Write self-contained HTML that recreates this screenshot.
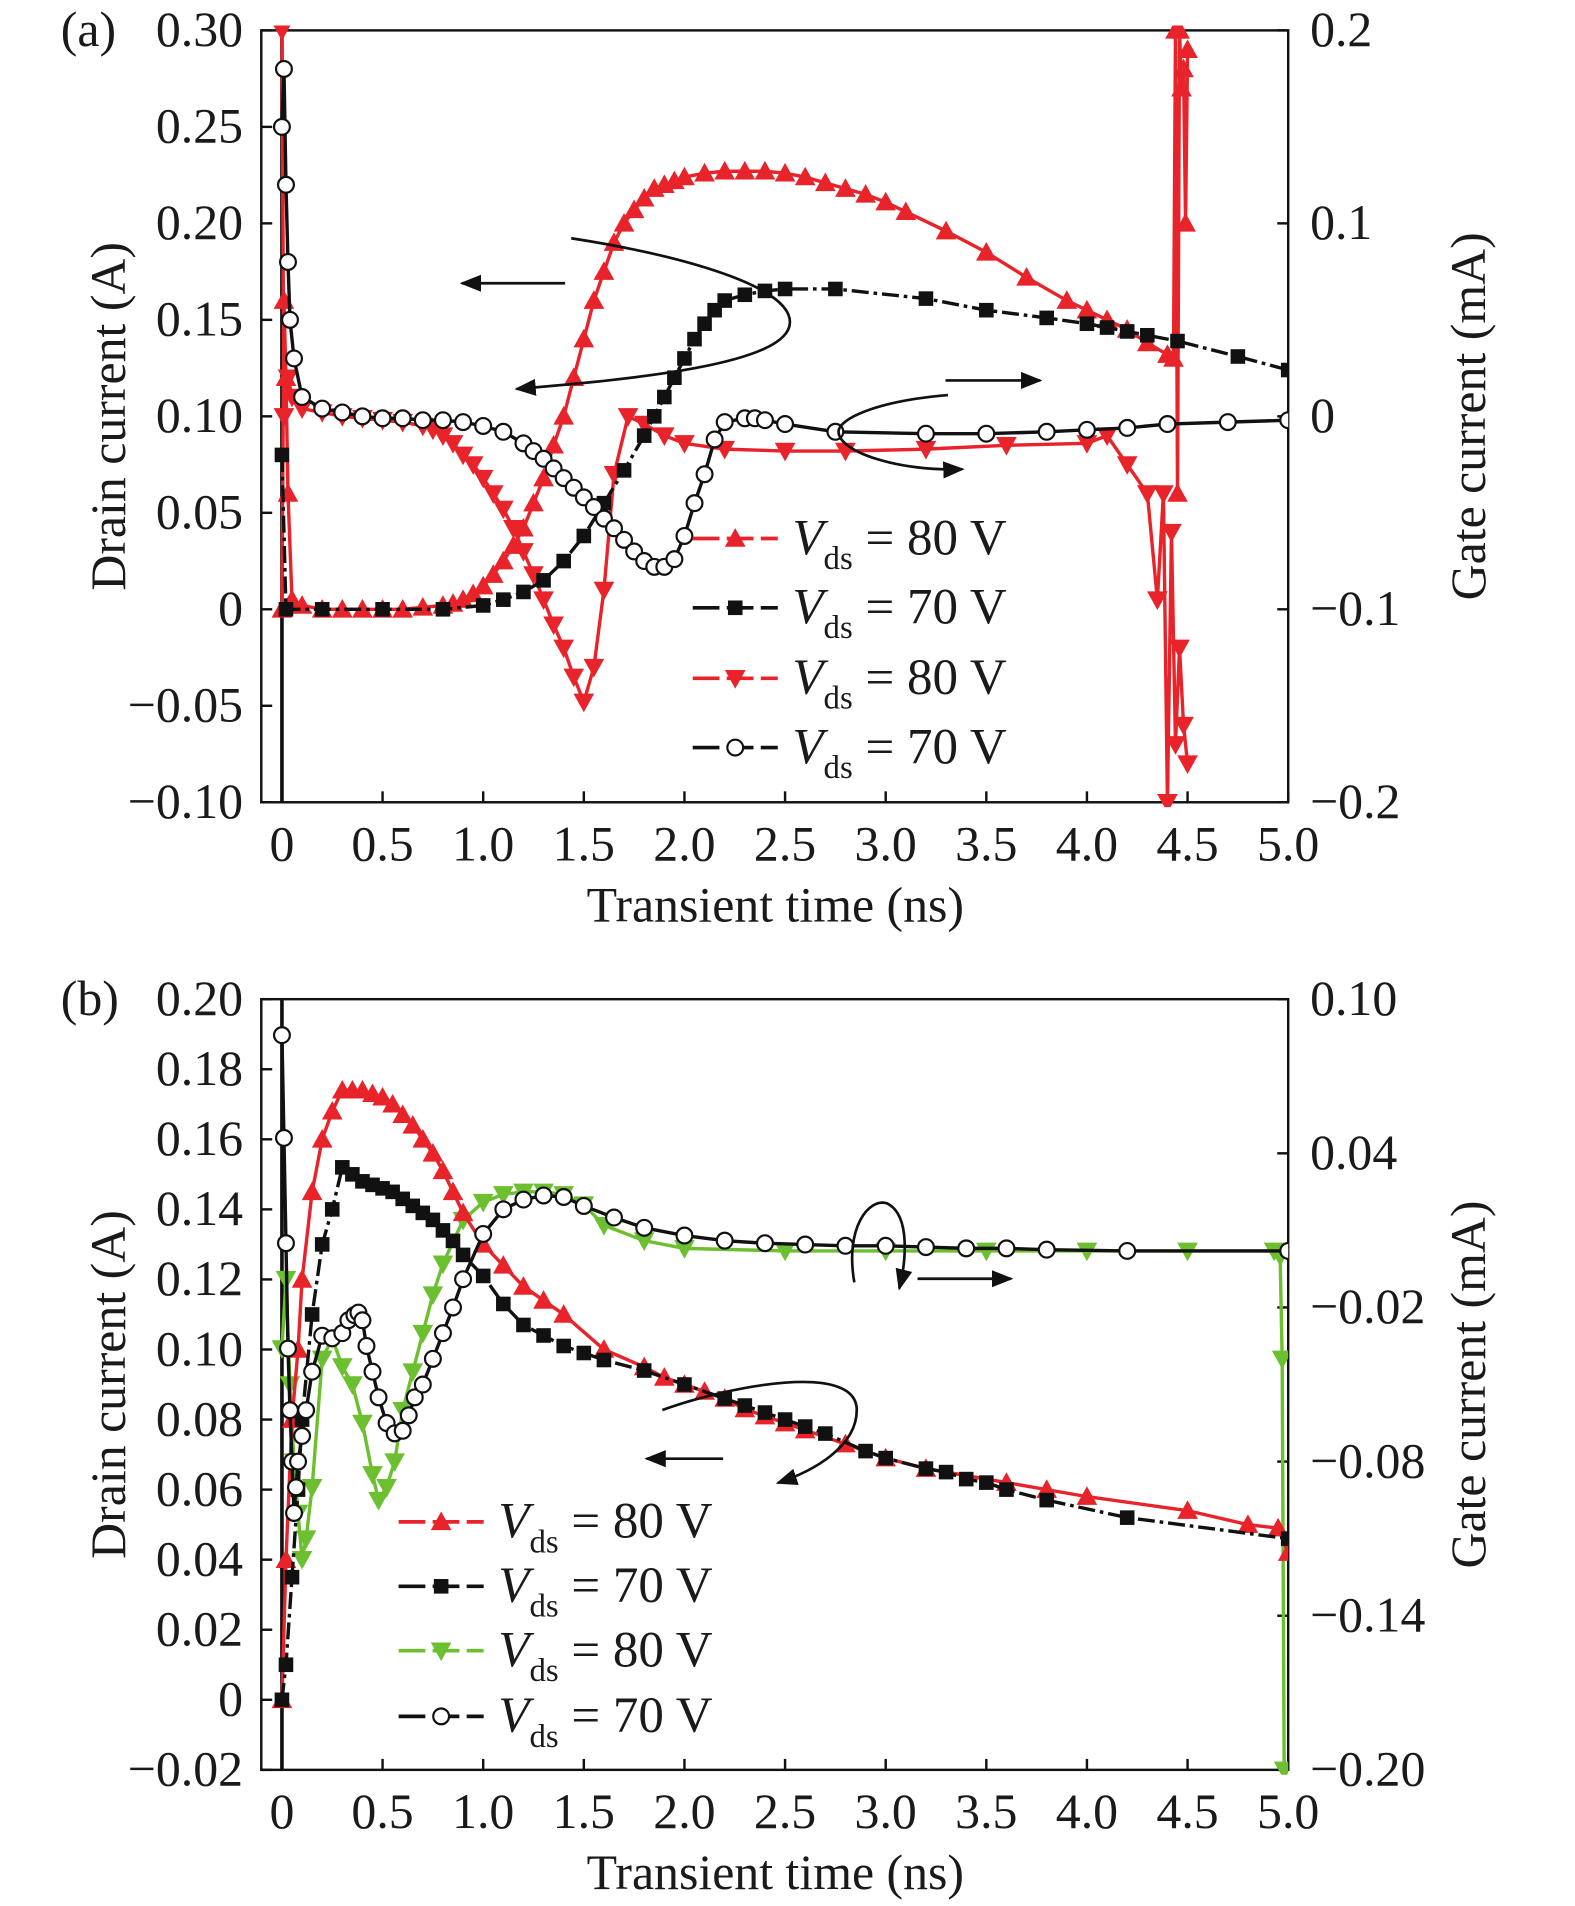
<!DOCTYPE html>
<html><head><meta charset="utf-8"><style>
html,body{margin:0;padding:0;background:#fff}
svg{display:block}
text{font-family:"Liberation Serif","Times New Roman",serif;fill:#1a1a1a}
</style></head><body>
<svg id="fig" width="1575" height="1906" viewBox="0 0 1296 1568" preserveAspectRatio="none" xmlns="http://www.w3.org/2000/svg" font-family="Liberation Serif, serif">
<defs>
<marker id="ah" viewBox="0 0 10 10" refX="9" refY="5" markerWidth="8" markerHeight="8" orient="auto"><path d="M0,1 L10,5 L0,9 Z" fill="#111"/></marker>
</defs>
<g id="layer"></g>
</svg>
<script>
// ---- Panel (a) data ----
const tA_up = [0,0.01,0.02,0.03,0.05,0.1,0.2,0.3,0.4,0.5,0.6,0.7,0.8,0.85,0.9,0.95,1.0,1.05,1.1,1.15,1.2,1.25,1.3,1.35,1.4,1.45,1.5,1.55,1.6,1.65,1.7,1.75,1.8,1.85,1.9,1.95,2.0,2.1,2.2,2.3,2.4,2.5,2.6,2.7,2.8,2.9,3.0,3.1,3.3,3.5,3.7,3.9,4.0,4.1,4.2,4.3,4.4,4.43,4.44,4.45,4.46,4.47,4.48,4.49,4.5];
const iA_up = [0,0.16,0.12,0.06,0.005,0.002,0.0,0.0,0.0,0.0,0.0,0.001,0.002,0.003,0.005,0.008,0.012,0.018,0.025,0.033,0.042,0.055,0.068,0.085,0.1,0.12,0.14,0.16,0.175,0.19,0.2,0.207,0.213,0.218,0.22,0.222,0.224,0.226,0.227,0.227,0.227,0.226,0.224,0.221,0.218,0.215,0.211,0.206,0.196,0.185,0.172,0.16,0.155,0.15,0.145,0.138,0.132,0.13,0.3,0.06,0.3,0.27,0.28,0.2,0.29];
const tA_sq = [0,0.02,0.2,0.5,0.8,1.0,1.1,1.2,1.3,1.4,1.5,1.6,1.7,1.8,1.85,1.9,1.95,2.0,2.05,2.1,2.15,2.2,2.3,2.4,2.5,2.75,3.2,3.5,3.8,4.0,4.1,4.2,4.3,4.45,4.75,5.0];
const iA_sq = [0.08,0.0,0.0,0.0,0.0,0.002,0.005,0.009,0.015,0.025,0.038,0.055,0.072,0.09,0.1,0.11,0.12,0.13,0.14,0.148,0.155,0.16,0.163,0.165,0.166,0.166,0.161,0.155,0.151,0.148,0.146,0.144,0.142,0.139,0.131,0.124];
const tA_dn = [0,0.01,0.03,0.05,0.1,0.2,0.3,0.4,0.5,0.6,0.7,0.75,0.8,0.85,0.9,0.95,1.0,1.05,1.1,1.15,1.2,1.25,1.3,1.35,1.4,1.45,1.5,1.55,1.6,1.65,1.72,1.8,1.9,2.0,2.2,2.5,2.8,3.2,3.6,4.0,4.1,4.2,4.3,4.35,4.38,4.4,4.42,4.44,4.46,4.48,4.5];
const gA_dn = [0.2,0.0,0.02,0.01,0.004,0.002,0.0,-0.001,-0.002,-0.003,-0.005,-0.007,-0.01,-0.014,-0.02,-0.025,-0.032,-0.04,-0.048,-0.058,-0.07,-0.082,-0.095,-0.108,-0.12,-0.135,-0.148,-0.13,-0.09,-0.03,0.0,-0.004,-0.01,-0.014,-0.017,-0.018,-0.018,-0.017,-0.015,-0.014,-0.01,-0.025,-0.04,-0.095,-0.04,-0.2,-0.06,-0.17,-0.12,-0.16,-0.18];
const tA_ci = [0,0.01,0.02,0.03,0.04,0.06,0.1,0.2,0.3,0.4,0.5,0.6,0.7,0.8,0.9,1.0,1.1,1.2,1.25,1.3,1.35,1.4,1.45,1.5,1.55,1.6,1.65,1.7,1.75,1.8,1.85,1.9,1.95,2.0,2.05,2.1,2.15,2.2,2.3,2.35,2.4,2.5,2.75,3.2,3.5,3.8,4.0,4.2,4.4,4.7,5.0];
const gA_ci = [0.15,0.18,0.12,0.08,0.05,0.03,0.01,0.004,0.002,0.0,-0.001,-0.001,-0.002,-0.002,-0.003,-0.005,-0.008,-0.014,-0.018,-0.022,-0.027,-0.032,-0.037,-0.042,-0.047,-0.053,-0.058,-0.064,-0.07,-0.075,-0.078,-0.078,-0.074,-0.062,-0.045,-0.03,-0.012,-0.003,-0.001,-0.001,-0.002,-0.004,-0.008,-0.009,-0.009,-0.008,-0.007,-0.006,-0.004,-0.003,-0.002];
const yTicksA = ["0.30","0.25","0.20","0.15","0.10","0.05","0","\u22120.05","\u22120.10"];
const yValsA = [0.30,0.25,0.20,0.15,0.10,0.05,0,-0.05,-0.10];
const rTicksA = ["0.2","0.1","0","\u22120.1","\u22120.2"];
const rValsA = [0.2,0.1,0,-0.1,-0.2];
// ---- Panel (b) data ----
const tB_up = [0,0.02,0.05,0.08,0.1,0.15,0.2,0.25,0.3,0.35,0.4,0.45,0.5,0.55,0.6,0.65,0.7,0.75,0.8,0.85,0.9,1.0,1.1,1.2,1.3,1.4,1.6,1.8,1.9,2.0,2.1,2.2,2.3,2.4,2.5,2.6,2.8,3.0,3.2,3.6,3.8,4.0,4.5,4.8,4.95,5.0];
const iB_up = [0,0.04,0.08,0.1,0.12,0.145,0.16,0.168,0.174,0.174,0.174,0.173,0.172,0.17,0.167,0.164,0.16,0.156,0.151,0.145,0.139,0.13,0.124,0.118,0.114,0.11,0.1,0.095,0.092,0.09,0.088,0.086,0.083,0.081,0.079,0.077,0.073,0.069,0.066,0.062,0.06,0.058,0.054,0.05,0.049,0.042];
const tB_sq = [0,0.02,0.05,0.08,0.1,0.15,0.2,0.25,0.3,0.35,0.4,0.45,0.5,0.55,0.6,0.65,0.7,0.75,0.8,0.85,0.9,1.0,1.1,1.2,1.3,1.4,1.5,1.6,1.8,2.0,2.2,2.3,2.4,2.5,2.6,2.7,2.9,3.0,3.2,3.3,3.4,3.5,3.6,3.8,4.2,5.0];
const iB_sq = [0,0.01,0.035,0.06,0.08,0.11,0.13,0.14,0.152,0.15,0.148,0.147,0.146,0.145,0.143,0.141,0.139,0.137,0.134,0.131,0.127,0.121,0.113,0.107,0.104,0.101,0.099,0.097,0.094,0.09,0.086,0.084,0.082,0.08,0.078,0.076,0.071,0.069,0.066,0.065,0.063,0.062,0.06,0.057,0.052,0.046];
const tB_dn = [0,0.02,0.04,0.06,0.08,0.1,0.12,0.15,0.2,0.25,0.3,0.35,0.4,0.45,0.48,0.52,0.56,0.6,0.65,0.7,0.75,0.8,0.9,1.0,1.1,1.2,1.3,1.4,1.5,1.6,1.8,2.0,2.5,3.0,3.5,4.0,4.5,4.93,4.96,4.97,4.98];
const gB_dn = [-0.036,-0.009,-0.05,-0.08,-0.1,-0.118,-0.11,-0.09,-0.04,-0.032,-0.043,-0.05,-0.065,-0.085,-0.095,-0.09,-0.08,-0.06,-0.045,-0.03,-0.015,-0.003,0.014,0.021,0.024,0.025,0.025,0.024,0.02,0.012,0.006,0.003,0.002,0.002,0.002,0.002,0.002,0.002,0.0,-0.04,-0.2];
const tB_ci = [0,0.01,0.02,0.03,0.04,0.05,0.06,0.07,0.08,0.1,0.12,0.15,0.2,0.25,0.3,0.33,0.36,0.38,0.4,0.42,0.45,0.48,0.52,0.56,0.6,0.63,0.66,0.7,0.75,0.8,0.85,0.9,1.0,1.1,1.2,1.3,1.4,1.5,1.65,1.8,2.0,2.2,2.4,2.6,2.8,3.0,3.2,3.4,3.6,3.8,4.2,5.0];
const gB_ci = [0.086,0.046,0.005,-0.036,-0.06,-0.08,-0.1,-0.09,-0.08,-0.07,-0.06,-0.045,-0.031,-0.032,-0.03,-0.025,-0.023,-0.022,-0.025,-0.035,-0.045,-0.055,-0.065,-0.069,-0.068,-0.062,-0.055,-0.05,-0.04,-0.03,-0.02,-0.009,0.0086,0.0182,0.022,0.0236,0.023,0.0195,0.015,0.011,0.008,0.006,0.005,0.0045,0.004,0.004,0.0035,0.003,0.003,0.0025,0.002,0.002];
const yTicksB = ["0.20","0.18","0.16","0.14","0.12","0.10","0.08","0.06","0.04","0.02","0","\u22120.02"];
const yValsB = [0.20,0.18,0.16,0.14,0.12,0.10,0.08,0.06,0.04,0.02,0,-0.02];
const rTicksB = ["0.10","0.04","\u22120.02","\u22120.08","\u22120.14","\u22120.20"];
const rValsB = [0.10,0.04,-0.02,-0.08,-0.14,-0.20];
const xTicks = ["0","0.5","1.0","1.5","2.0","2.5","3.0","3.5","4.0","4.5","5.0"];
const xVals = [0,0.5,1,1.5,2,2.5,3,3.5,4,4.5,5];

const NS="http://www.w3.org/2000/svg";
const layer=document.getElementById('layer');
function mk(tag,attrs,parent){const e=document.createElementNS(NS,tag);for(const k in attrs)e.setAttribute(k,attrs[k]);(parent||layer).appendChild(e);return e;}
const RED="#e8232a", BLK="#111", GRN="#6cbf2e";
const X0=215,X1=1060;
function xs(t){return 232+(t/5)*(1060-232);}
const FS=41;

function panel(top,bottom,yMin,yMax,rMin,rMax,label,yT,yV,rT,rV){
  const g=mk('g',{});
  
  
  const ys=v=>bottom-(v-yMin)/(yMax-yMin)*(bottom-top);
  const rs=v=>bottom-(v-rMin)/(rMax-rMin)*(bottom-top);
  const fr=mk('rect',{x:X0,y:top,width:X1-X0,height:bottom-top,fill:'none',stroke:'#111','stroke-width':2},g);
  
  
  xVals.forEach((v,i)=>{
    mk('line',{x1:xs(v),x2:xs(v),y1:bottom,y2:bottom-9,stroke:'#111','stroke-width':2},g);
    const t=mk('text',{x:xs(v),y:bottom+48,'font-size':FS,'text-anchor':'middle'},g);t.textContent=xTicks[i];
    
    
  });
  yV.forEach((v,i)=>{
    mk('line',{x1:X0,x2:X0+9,y1:ys(v),y2:ys(v),stroke:'#111','stroke-width':2},g);
    const t=mk('text',{x:X0-15,y:ys(v)+13,'font-size':FS,'text-anchor':'end'},g);t.textContent=yT[i];
    
    
  });
  rV.forEach((v,i)=>{
    mk('line',{x1:X1,x2:X1-9,y1:rs(v),y2:rs(v),stroke:'#111','stroke-width':2},g);
    const t=mk('text',{x:X1+18,y:rs(v)+13,'font-size':FS,'text-anchor':'start'},g);t.textContent=rT[i];
    
    
  });
  const mid=(top+bottom)/2;
  const yl=mk('text',{x:0,y:0,'font-size':FS,'text-anchor':'middle',transform:`translate(103,${mid}) rotate(-90)`},g);yl.textContent='Drain current (A)';
  
  
  const rl=mk('text',{x:0,y:0,'font-size':FS,'text-anchor':'middle',transform:`translate(1222,${mid}) rotate(-90)`},g);rl.textContent='Gate current (mA)';
  
  
  const xl=mk('text',{x:638,y:bottom+98,'font-size':FS,'text-anchor':'middle'},g);xl.textContent='Transient time (ns)';
  
  
  const pl=mk('text',{x:50,y:top+13,'font-size':FS},g);pl.textContent='('+label+')';
  
  
  return {ys,rs,g,top,bottom};
}

function marker(g,type,x,y,col){
  const s=8.5;
  if(type==='up') return mk('path',{d:`M${x},${y-s} L${x+s},${y+s*0.8} L${x-s},${y+s*0.8}Z`,fill:col},g);
  if(type==='dn') return mk('path',{d:`M${x},${y+s} L${x+s},${y-s*0.8} L${x-s},${y-s*0.8}Z`,fill:col},g);
  if(type==='sq') return mk('rect',{x:x-6,y:y-6,width:12,height:12,fill:col},g);
  return mk('circle',{cx:x,cy:y,r:6.5,fill:'#fff',stroke:col,'stroke-width':1.8},g);
}
function series(P,ts,vs,scale,type,col,name,clipId){
  const g=mk('g',{'clip-path':`url(#${clipId})`},P.g);
  
  
  const pts=ts.map((t,i)=>[xs(t),scale(vs[i])]);
  mk('polyline',{points:pts.map(p=>p.join(',')).join(' '),fill:'none',stroke:col,'stroke-width':2.8,'stroke-dasharray':(type==='sq'?'14 4 3 4':'none')},g);
  pts.forEach(p=>{const m=marker(g,type,p[0],p[1],col);
    
    });
}
function clip(id,top,bottom){const c=mk('clipPath',{id});mk('rect',{x:X0,y:top-4,width:X1-X0,height:bottom-top+8},c);}
function legend(g,x,y,type,col,txt){
  const lg=mk('g',{},g);
  
  
  mk('line',{x1:x,x2:x+70,y1:y,y2:y,stroke:col,'stroke-width':3,'stroke-dasharray':'22 6'},lg);
  marker(lg,type,x+35,y,col);
  const t=mk('text',{x:x+82,y:y+13,'font-size':42},lg);
  t.innerHTML=`<tspan font-style="italic">V</tspan><tspan font-size="27" dy="12">ds</tspan><tspan dy="-12"> = ${txt} V</tspan>`;
}
function arrow(g,d){const p=mk('path',{d,fill:'none',stroke:'#111','stroke-width':2.2,'marker-end':'url(#ah)'},g);
  
  }

// Panel a
clip('ca',25,660);
const A=panel(25,660,-0.10,0.30,-0.2,0.2,'a',yTicksA,yValsA,rTicksA,rValsA);
mk('line',{x1:232,x2:232,y1:25,y2:660,stroke:'#111','stroke-width':3},A.g);
series(A,tA_dn,gA_dn,A.rs,'dn',RED,'gate-80v-series','ca');
series(A,tA_up,iA_up,A.ys,'up',RED,'drain-80v-series','ca');
series(A,tA_sq,iA_sq,A.ys,'sq',BLK,'drain-70v-series','ca');
series(A,tA_ci,gA_ci,A.rs,'ci',BLK,'gate-70v-series','ca');
arrow(A.g,'M465,233 L380,233');
arrow(A.g,'M470,196 C560,210 650,235 650,265 C650,300 520,312 425,320');
arrow(A.g,'M778,313 L856,313');
arrow(A.g,'M780,325 C720,330 690,345 690,355 C690,372 740,388 792,386');
legend(A.g,570,443,'up',RED,'80');
legend(A.g,570,500,'sq',BLK,'70');
legend(A.g,570,558,'dn',RED,'80');
legend(A.g,570,615,'ci',BLK,'70');

// Panel b
clip('cb',822,1456);
const B=panel(822,1456,-0.02,0.20,-0.20,0.10,'b',yTicksB,yValsB,rTicksB,rValsB);
mk('line',{x1:232,x2:232,y1:822,y2:1456,stroke:'#111','stroke-width':3},B.g);
series(B,tB_dn,gB_dn,B.rs,'dn',GRN,'gate-80v-series','cb');
series(B,tB_up,iB_up,B.ys,'up',RED,'drain-80v-series','cb');
series(B,tB_sq,iB_sq,B.ys,'sq',BLK,'drain-70v-series','cb');
series(B,tB_ci,gB_ci,B.rs,'ci',BLK,'gate-70v-series','cb');
arrow(B.g,'M595,1200 L532,1200');
arrow(B.g,'M545,1160 C600,1140 705,1120 705,1160 C705,1190 670,1210 640,1220');
arrow(B.g,'M755,1052 L832,1052');
arrow(B.g,'M703,1055 C695,1010 715,985 730,990 C750,1000 745,1040 740,1060');
legend(B.g,328,1252,'up',RED,'80');
legend(B.g,328,1305,'sq',BLK,'70');
legend(B.g,328,1358,'dn',GRN,'80');
legend(B.g,328,1412,'ci',BLK,'70');
</script>
</body></html>
